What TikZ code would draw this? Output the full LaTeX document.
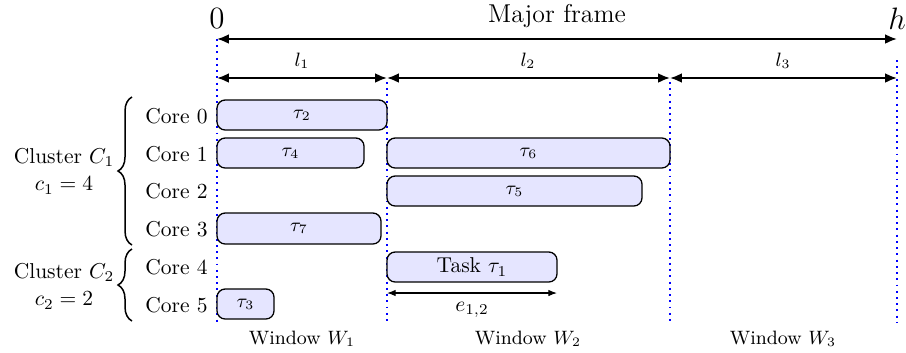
\documentclass[tikz,border=0pt]{standalone}
\usetikzlibrary{arrows.meta,decorations.pathreplacing,fit}
\begin{document}
\begin{tikzpicture}[x=0.465pt,y=-0.465pt,
  taskbox/.style={draw=black,line width=0.6pt,fill=blue!10,rounded corners=3.8pt,inner sep=0pt},
  tlabel/.style={font=\small},
  corelbl/.style={anchor=east,inner sep=0pt},
  bigarrow/.style={line width=0.9pt,{Latex[length=5.5pt,width=4.5pt]}-{Latex[length=5.5pt,width=4.5pt]}},
  smallarrow/.style={line width=0.5pt,{Latex[length=4pt,width=3pt]}-{Latex[length=4pt,width=3pt]}},
  winline/.style={blue,dotted,line width=0.9pt},
  clbrace/.style={decorate,decoration={brace,amplitude=6.5pt},line width=0.7pt}]
\useasboundingbox (0,0) rectangle (906,352);

% time coordinates
\coordinate (m0) at (217,39);
\coordinate (mh) at (897,39);
\coordinate (a0) at (217,78);
\coordinate (a1) at (387,78);
\coordinate (a2) at (670,78);
\coordinate (a3) at (897,78);

% window lines
\coordinate (v0t) at (217,39);  \coordinate (v0b) at (217,323);
\coordinate (v1t) at (387,82);  \coordinate (v1b) at (387,323);
\coordinate (v2t) at (670,82);  \coordinate (v2b) at (670,323);
\coordinate (v3t) at (897,60);  \coordinate (v3b) at (897,323);
\draw[winline] (v0t) -- (v0b);
\draw[winline] (v1t) -- (v1b);
\draw[winline] (v2t) -- (v2b);
\draw[winline] (v3t) -- (v3b);

% major frame
\node[font=\Large] (zero) at (217,19) {$0$};
\node[font=\Large] (hh) at (897,19) {$h$};
\node[font=\large] (mf) at (557,16) {Major frame};
\draw[bigarrow] (m0) -- (mh);

% window lengths
\draw[bigarrow] (a0) -- (a1);
\draw[bigarrow] (a1) -- (a2);
\draw[bigarrow] (a2) -- (a3);
\node[tlabel] (l1) at (302,61) {$l_1$};
\node[tlabel] (l2) at (528,61) {$l_2$};
\node[tlabel] (l3) at (783,61) {$l_3$};

% core labels
\node[corelbl] (c0) at (208,116) {Core 0};
\node[corelbl] (c1) at (208,154) {Core 1};
\node[corelbl] (c2) at (208,191) {Core 2};
\node[corelbl] (c3) at (208,229) {Core 3};
\node[corelbl] (c4) at (208,267) {Core 4};
\node[corelbl] (c5) at (208,305) {Core 5};

% tasks
\node[taskbox,fit={(217,100) (387,130)}] (t2) {};
\node[taskbox,fit={(217,138) (364,168)}] (t4) {};
\node[taskbox,fit={(387,138) (670,168)}] (t6) {};
\node[taskbox,fit={(387,176) (642,206)}] (t5) {};
\node[taskbox,fit={(217,213) (381,244)}] (t7) {};
\node[taskbox,fit={(387,252) (557,282)}] (t1) {};
\node[taskbox,fit={(217,289) (274,319)}] (t3) {};
\node[tlabel] (t2l) at (t2.center) {$\tau_2$};
\node[tlabel] (t4l) at (t4.center) {$\tau_4$};
\node[tlabel] (t6l) at (t6.center) {$\tau_6$};
\node[tlabel] (t5l) at (t5.center) {$\tau_5$};
\node[tlabel] (t7l) at (t7.center) {$\tau_7$};
\node (t1l) at (t1.center) {Task $\tau_1$};
\node[tlabel] (t3l) at (t3.center) {$\tau_3$};

% execution time
\coordinate (e0) at (387,293);
\coordinate (e1) at (557,293);
\draw[smallarrow] (e0) -- (e1);
\node (elbl) at (472,310) {$e_{1,2}$};

% window labels
\node[tlabel] (w1) at (302,339) {Window $W_1$};
\node[tlabel] (w2) at (528,339) {Window $W_2$};
\node[tlabel] (w3) at (783,339) {Window $W_3$};

% clusters
\coordinate (b1b) at (132,245);
\coordinate (b1t) at (132,97);
\coordinate (b2b) at (132,321);
\coordinate (b2t) at (132,249);
\draw[clbrace] (b1b) -- (b1t);
\draw[clbrace] (b2b) -- (b2t);
\node[align=center] (cl1) at (64,171) {Cluster $C_1$\\[1pt]$c_1=4$};
\node[align=center] (cl2) at (64,286) {Cluster $C_2$\\[1pt]$c_2=2$};
\end{tikzpicture}
\end{document}
